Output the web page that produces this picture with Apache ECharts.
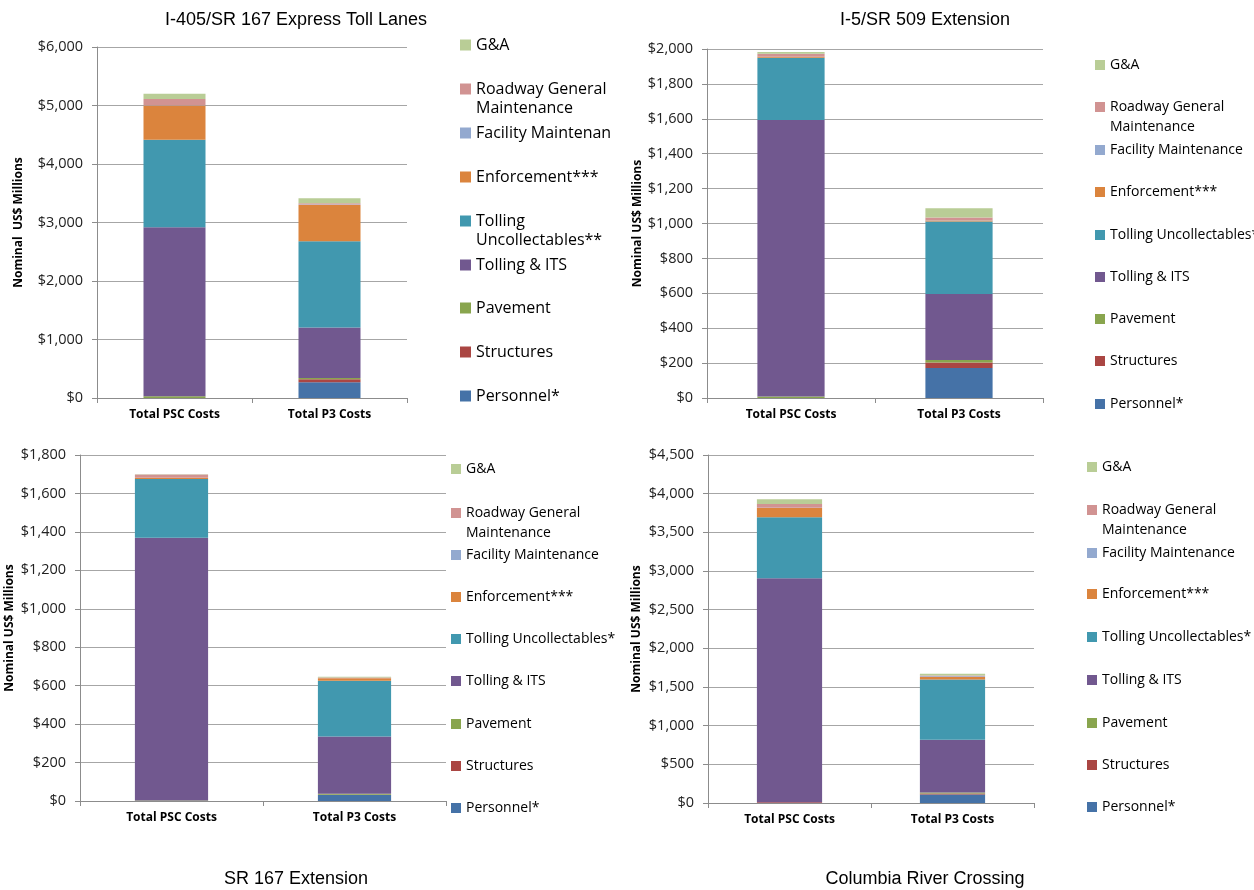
<!DOCTYPE html>
<html><head><meta charset="utf-8">
<script src="https://cdn.jsdelivr.net/npm/echarts@6/dist/echarts.min.js"></script>
<style>html,body{margin:0;padding:0;background:#fff}#c{width:1254px;height:890px}</style>
</head><body><div id="c"></div>
<script>
// ---- data ----
const categories = ['Total PSC Costs', 'Total P3 Costs'];
// series order (bottom to top of stack)
const seriesNames = ['Personnel*', 'Structures', 'Pavement', 'Tolling & ITS', 'Tolling Uncollectables',
  'Enforcement***', 'Facility Maintenance', 'Roadway General Maintenance', 'G&A'];
const seriesColors = ['#4572A7', '#AA4643', '#89A54E', '#71588F', '#4198AF', '#DB843D', '#93A9CF', '#D19392', '#B9CD96'];

const chartTitles = ['I-405/SR 167 Express Toll Lanes', 'I-5/SR 509 Extension', 'SR 167 Extension', 'Columbia River Crossing'];
const yAxisNames = ['Nominal  US$ Millions', 'Nominal US$ Millions', 'Nominal US$ Millions', 'Nominal US$ Millions'];

// values in series order, US$ millions
const i405PSC = [0, 0, 30, 2890, 1494, 587, 5, 103, 91];
const i405P3  = [268, 51, 23, 861, 1477, 621, 5, 23, 85];
const i5PSC   = [0, 0, 8, 1585, 357, 5, 0, 18, 10];
const i5P3    = [172, 32, 14, 378, 416, 5, 2, 16, 52];
const sr167PSC = [0, 0, 3, 1367, 305, 7, 0, 16, 2];
const sr167P3  = [31, 2, 5, 298, 290, 12, 1, 3, 4];
const crcPSC  = [0, 10, 0, 2895, 790, 119, 5, 46, 64];
const crcP3   = [111, 12, 14, 682, 777, 34, 8, 10, 24];

const chartValues = [[i405PSC, i405P3], [i5PSC, i5P3], [sr167PSC, sr167P3], [crcPSC, crcP3]];

// y-axis ticks
const yMax = [6000, 2000, 1800, 4500];
const yInterval = [1000, 200, 200, 500];

// legend labels (series order)
const legendLabels = [
  ['Personnel*', 'Structures', 'Pavement', 'Tolling & ITS', 'Tolling\nUncollectables**', 'Enforcement***', 'Facility Maintenance', 'Roadway General\nMaintenance', 'G&A'],
  ['Personnel*', 'Structures', 'Pavement', 'Tolling & ITS', 'Tolling Uncollectables**', 'Enforcement***', 'Facility Maintenance', 'Roadway General\nMaintenance', 'G&A'],
  ['Personnel*', 'Structures', 'Pavement', 'Tolling & ITS', 'Tolling Uncollectables*', 'Enforcement***', 'Facility Maintenance', 'Roadway General\nMaintenance', 'G&A'],
  ['Personnel*', 'Structures', 'Pavement', 'Tolling & ITS', 'Tolling Uncollectables*', 'Enforcement***', 'Facility Maintenance', 'Roadway General\nMaintenance', 'G&A']
];

// ---- layout ----
const grids = [
  {left: 97, top: 47, width: 310, height: 351},
  {left: 707, top: 49, width: 336, height: 349},
  {left: 80, top: 455, width: 366, height: 346},
  {left: 708, top: 455, width: 326, height: 348}
];
const yNameGap = [72, 62, 64, 65];
const titlePos = [{x: 296, y: 11}, {x: 925, y: 11}, {x: 296, y: 870}, {x: 925, y: 870}];
// legend: icon x, first-line y centres from top item (G&A) to bottom (Personnel*)
const legendX = [460, 1095, 451, 1087];
const legendY = [
  [45, 89, 133, 177, 221, 265, 308, 352, 396],
  [65, 107, 150, 192, 235, 277, 319, 361, 404],
  [469, 513, 555, 597, 639, 681, 724, 766, 808],
  [467, 510, 553, 594, 637, 680, 723, 765, 807]
];
const legendFont = [16, 14, 14, 14];
const legendLH = [19, 20, 20, 20];
const legendIcon = [11, 10, 10, 10];

const FONT = '"Open Sans", sans-serif';

const option = {
  animation: false,
  backgroundColor: '#fff',
  title: chartTitles.map((t, i) => ({
    text: t, left: titlePos[i].x, top: titlePos[i].y, textAlign: 'center', padding: 0,
    textStyle: {fontFamily: '"Liberation Sans", Arial, sans-serif', fontSize: 18, fontWeight: 'normal', color: '#000'}
  })),
  grid: grids.map(g => Object.assign({containLabel: false}, g)),
  xAxis: grids.map((g, i) => ({
    type: 'category', gridIndex: i, data: categories,
    axisLine: {lineStyle: {color: '#8c8c8c', width: 1}},
    axisTick: {show: true, length: 5, lineStyle: {color: '#8c8c8c'}},
    axisLabel: {fontFamily: FONT, fontSize: 12, fontWeight: 'bold', color: '#000', margin: 11},
    splitLine: {show: false}
  })),
  yAxis: grids.map((g, i) => ({
    type: 'value', gridIndex: i, min: 0, max: yMax[i], interval: yInterval[i],
    name: yAxisNames[i], nameLocation: 'middle', nameGap: yNameGap[i], nameRotate: 90,
    nameTextStyle: {fontFamily: FONT, fontSize: 12, fontWeight: 'bold', color: '#000'},
    axisLine: {show: true, lineStyle: {color: '#8c8c8c', width: 1}},
    axisTick: {show: true, length: 5, lineStyle: {color: '#8c8c8c'}},
    axisLabel: {fontFamily: FONT, fontSize: 14.5, color: '#222', margin: 14,
      formatter: v => '$' + v.toLocaleString('en-US')},
    splitLine: {show: true, lineStyle: {color: '#a6a6a6', width: 1}}
  })),
  legend: [],
  series: []
};

chartValues.forEach((vals, c) => {
  seriesNames.forEach((name, s) => {
    option.series.push({
      type: 'bar', name: name, xAxisIndex: c, yAxisIndex: c, stack: 'stack' + c,
      barWidth: '40%', data: [vals[0][s], vals[1][s]],
      itemStyle: {color: seriesColors[s]}
    });
    const k = seriesNames.length - 1 - s;
    const label = legendLabels[c][s];
    const lines = label.split('\n').length;
    const lh = legendLH[c];
    const text = lines > 1 ? ' \n' + label : label;
    const nLines = lines > 1 ? 3 : 1;
    const textStyle = {fontFamily: FONT, fontSize: legendFont[c], color: '#000', lineHeight: lh};
    if (c === 0 && s === 6) { textStyle.width = 138; textStyle.overflow = 'truncate'; textStyle.ellipsis = ''; }
    option.legend.push({
      data: [name], left: legendX[c], top: legendY[c][k] - nLines * lh / 2,
      orient: 'vertical', padding: 0, selectedMode: false,
      icon: 'rect', itemWidth: legendIcon[c], itemHeight: legendIcon[c], itemGap: 0,
      formatter: () => text, textStyle: textStyle
    });
  });
});

const chart = echarts.init(document.getElementById('c'), null, {renderer: 'canvas'});
chart.setOption(option);
</script>
</body></html>
